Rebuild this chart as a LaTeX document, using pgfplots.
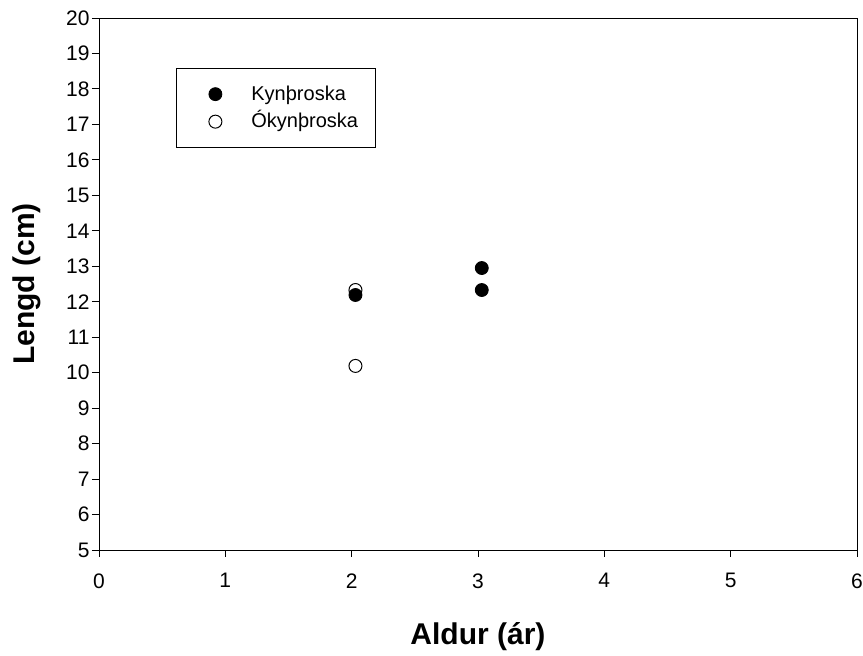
\documentclass[border=0pt]{standalone}
\usepackage{fontspec}
\setmainfont{Liberation Sans}
\usepackage{pgfplots}
\pgfplotsset{compat=1.18}
\begin{document}
\begin{tikzpicture}
\useasboundingbox[fill=white] (-99pt,-106pt) rectangle (764pt,550pt);
\begin{axis}[
  scale only axis, width=758pt, height=532pt,
  at={(0,0)}, anchor=south west,
  xmin=0, xmax=6, ymin=5, ymax=20,
  xtick={0,1,...,6}, ytick={5,6,...,20},
  tick align=outside, xtick pos=bottom, ytick pos=left,
  major tick length=7pt,
  /pgf/number format/assume math mode=true,
  tick label style={font=\fontsize{21}{25}\selectfont},
  xticklabel style={yshift=-13pt},
  yticklabel style={xshift=1pt},
  xlabel={\textbf{Aldur (ár)}}, ylabel={\textbf{Lengd (cm)}},
  label style={font=\fontsize{30}{34}\selectfont},
  xlabel style={at={(axis description cs:0.5,0)}, anchor=base, yshift=-95pt},
  ylabel style={at={(axis description cs:-0.095,0.5)}, anchor=center},
  axis line style={line width=0.9pt},
  tick style={line width=0.9pt, black},
  legend style={at={(77pt,482pt)}, anchor=north west, draw=black, line width=0.8pt,
    font=\fontsize{20}{24}\selectfont, row sep=8pt, inner xsep=15pt, inner ysep=16pt,
    cells={anchor=west, inner ysep=1pt, text height=14pt, text depth=4pt}},
  legend cell align=left,
  legend image code/.code={%
    \path[draw=none,fill=none] (-24pt,0pt) -- (34pt,0pt);
    \path[#1,draw=none] (0pt,0pt) -- (0pt,0pt);
    \draw[#1] plot[only marks] coordinates {(0pt,0pt)};},
]
\addplot[only marks, mark=*, mark size=6.5pt, black, mark options={fill=black, line width=0.8pt}]
  coordinates {(2.03,12.19) (3.03,12.95) (3.03,12.33)};
\addlegendentry{Kynþroska}
\addplot[only marks, mark=o, mark size=6.5pt, black, mark options={fill=white, line width=1pt}]
  coordinates {(2.03,12.33) (2.03,10.19)};
\addlegendentry{Ókynþroska}
\end{axis}
\end{tikzpicture}
\end{document}
